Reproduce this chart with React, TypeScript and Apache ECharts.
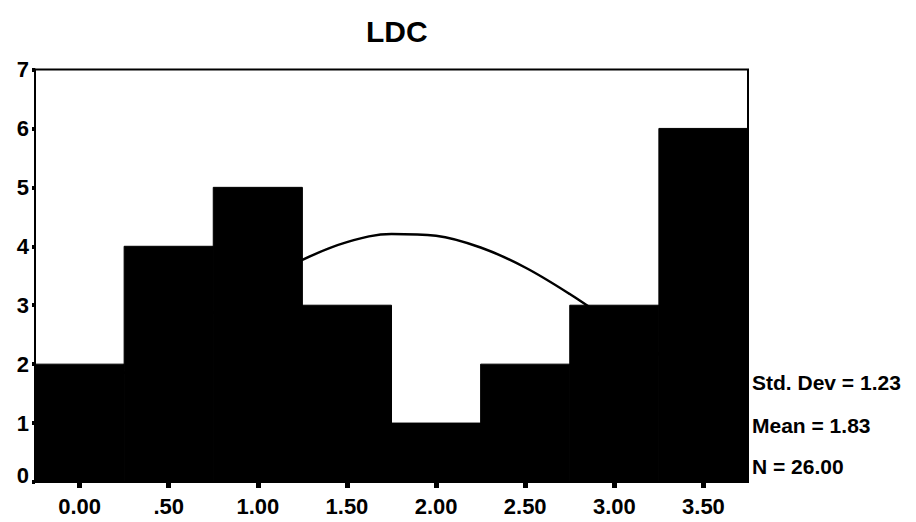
import React, { useEffect, useRef } from "react";
import * as echarts from "echarts";

const title = "LDC";
const binCenters = [0, 0.5, 1.0, 1.5, 2.0, 2.5, 3.0, 3.5];
const counts = [2, 4, 5, 3, 1, 2, 3, 6];
const xTickLabels = ["0.00", ".50", "1.00", "1.50", "2.00", "2.50", "3.00", "3.50"];
const yTickLabels = ["0", "1", "2", "3", "4", "5", "6", "7"];
const curveX = [-0.25, 0, 0.25, 0.5, 0.75, 1.0, 1.25, 1.5, 1.75, 2.0, 2.25, 2.5, 2.75, 3.0, 3.25, 3.5, 3.75];
const curveY = [1.01, 1.39, 1.85, 2.35, 2.87, 3.36, 3.77, 4.07, 4.21, 4.18, 3.98, 3.64, 3.19, 2.68, 2.17, 1.68, 1.25];
const stats = ["Std. Dev = 1.23", "Mean = 1.83", "N = 26.00"];

export default function App() {
  const ref = useRef<HTMLDivElement>(null);
  useEffect(() => {
    if (!ref.current) return;
    const chart = echarts.init(ref.current, null, { renderer: "svg" });
    const font = "'Liberation Sans', Arial, sans-serif";
    chart.setOption({
      animation: false,
      backgroundColor: "#fff",
      grid: {
        left: 35,
        right: 168,
        top: 69.5,
        bottom: 40,
        show: true,
        borderColor: "#000",
        borderWidth: 2,
        backgroundColor: "transparent",
      },
      xAxis: {
        type: "value",
        min: -0.25,
        max: 3.75,
        splitLine: { show: false },
        axisLine: { show: true, onZero: false, lineStyle: { color: "#000", width: 2 } },
        axisTick: {
          show: true,
          customValues: binCenters,
          length: 6,
          lineStyle: { color: "#000", width: 5 },
        },
        axisLabel: {
          customValues: binCenters,
          formatter: (v: number) => {
            const i = binCenters.findIndex((c) => Math.abs(c - v) < 1e-6);
            return i >= 0 ? xTickLabels[i] : "";
          },
          color: "#000",
          fontFamily: font,
          fontWeight: "bold",
          fontSize: 22,
          margin: 13,
        },
      },
      yAxis: {
        type: "value",
        min: 0,
        max: 7,
        interval: 1,
        splitLine: { show: false },
        axisLine: { show: true, onZero: false, lineStyle: { color: "#000", width: 2 } },
        axisTick: { show: true, length: 3, lineStyle: { color: "#000", width: 4 } },
        axisLabel: {
          formatter: (v: number) => {
            const i = Math.round(v);
            const t = yTickLabels[i] ?? "";
            return i === 0 ? `{z|${t}}` : t;
          },
          rich: {
            z: {
              color: "#000",
              fontFamily: font,
              fontWeight: "bold",
              fontSize: 22,
              padding: [0, 0, 14, 0],
            },
          },
          color: "#000",
          fontFamily: font,
          fontWeight: "bold",
          fontSize: 22,
          margin: 6,
        },
      },
      series: [
        {
          type: "line",
          data: curveX.map((x, i) => [x, curveY[i]]),
          smooth: 0.35,
          showSymbol: false,
          symbol: "none",
          lineStyle: { color: "#000", width: 2.5 },
          z: 1,
        },
        {
          type: "custom",
          z: 3,
          data: binCenters.map((c, i) => [c, counts[i]]),
          renderItem: (params: any, api: any) => {
            const c = api.value(0);
            const v = api.value(1);
            const p0 = api.coord([c - 0.25, v]);
            const p1 = api.coord([c + 0.25, 0]);
            return {
              type: "rect",
              shape: { x: p0[0], y: p0[1], width: p1[0] - p0[0], height: p1[1] - p0[1] },
              style: { fill: "#000", stroke: "#000", lineWidth: 1 },
            };
          },
        },
      ],
      graphic: [
        {
          type: "text",
          left: 366,
          top: 16,
          style: {
            text: title,
            fill: "#000",
            font: `bold 30px ${font}`,
          },
        },
        ...stats.map((s, i) => ({
          type: "text",
          left: 752,
          top: [372, 415, 456][i],
          style: { text: s, fill: "#000", font: `bold 21px ${font}` },
        })),
      ],
    });
    return () => chart.dispose();
  }, []);
  return (
    <div
      ref={ref}
      style={{ position: "fixed", left: 0, top: 0, width: 916, height: 522 }}
    />
  );
}
